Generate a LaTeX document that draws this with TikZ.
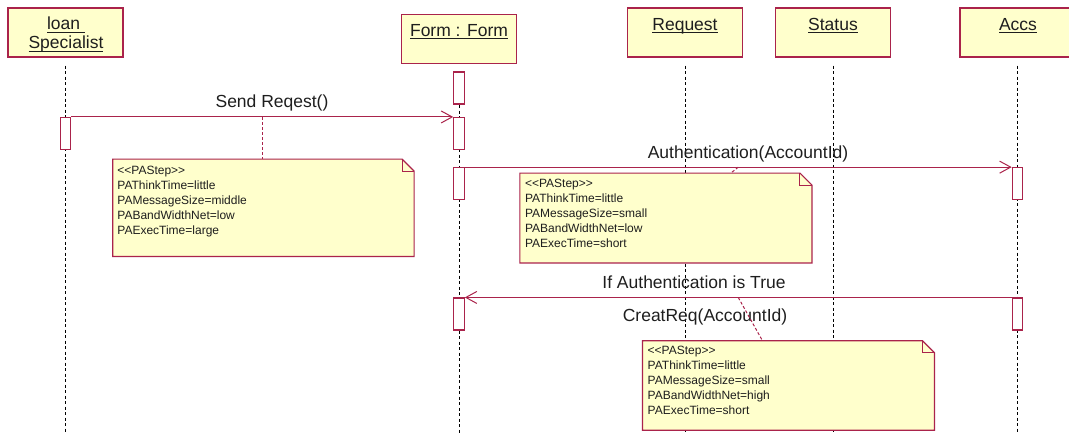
\documentclass[tikz,border=0pt]{standalone}
\usepackage{fontspec}
\setmainfont{Liberation Sans}
\usetikzlibrary{arrows.meta,calc}

\definecolor{umlred}{RGB}{170,35,75}
\definecolor{umlfill}{RGB}{255,255,204}
\definecolor{inktext}{RGB}{30,30,30}

% underlined object name with a fixed rule offset
\newcommand\ulname[1]{\setbox0=\hbox{#1}\rlap{\rule[-2.8pt]{\wd0}{0.9pt}}\box0}
% stereotype brackets without the guillemet ligature
\newcommand\stereo[1]{<{}<#1>{}>}

\tikzset{
  objbox/.style={draw=umlred, fill=umlfill, line width=1.2pt,
    minimum width=115pt, minimum height=49pt, inner sep=0pt},
  objname/.style={font=\fontsize{17.5}{19}\selectfont, text=inktext, inner sep=0pt},
  lifeline/.style={draw=black, line width=0.8pt, dash pattern=on 3pt off 2.5pt},
  actbar/.style={draw=umlred, fill=white, line width=1.1pt,
    minimum width=10.5pt, minimum height=32pt, inner sep=0pt},
  msg/.style={draw=umlred, line width=1pt,
    -{Straight Barb[length=11pt,width=12pt,line width=1pt]}},
  msglabel/.style={font=\fontsize{17.5}{20}\selectfont, text=inktext,
    anchor=base, inner sep=0pt},
  notebox/.style={inner sep=0pt},
  noteedge/.style={draw=umlred, fill=umlfill, line width=1.2pt, line join=miter},
  notefold/.style={draw=umlred, line width=1pt},
  notetext/.style={font=\fontsize{12}{15}\selectfont, text=inktext,
    align=left, anchor=north west, inner sep=0pt},
  notelink/.style={draw=umlred, line width=1pt, dash pattern=on 3pt off 2pt},
}

\begin{document}
\begin{tikzpicture}[x=1pt,y=-1pt]
\useasboundingbox (0,0) rectangle (1069,434);
\clip (0,0) rectangle (1069,434);
\coordinate (bottom) at (0,434);

% object headers
\node[objbox] (loan) at (65.5,32.5) {};
\node[objbox] (form) at (459,39) {};
\node[objbox] (req)  at (685,32.5) {};
\node[objbox] (stat) at (833,32.5) {};
\node[objbox] (accs) at (1017.5,32.5) {};

\node[objname, anchor=north, align=center] (loanname) at (66,16.8)
  {\ulname{loan\ }\\\ulname{Specialist}};
\node[objname, anchor=base] (formname) at (459,36) {\ulname{Form : Form}};
\node[objname, anchor=base] (reqname)  at (685,30.4) {\ulname{Request}};
\node[objname, anchor=base] (statname) at (833,30.4) {\ulname{Status}};
\node[objname, anchor=base] (accsname) at (1018,30.4) {\ulname{Accs}};

% lifelines
\foreach \o in {loan,form,req,stat,accs}
  \draw[lifeline] ([yshift=-8pt]\o.south) -- (\o.south |- bottom);

% activation bars
\node[actbar] (ls1) at (65.5,133.5) {};
\node[actbar] (fm1) at (459,88) {};
\node[actbar] (fm2) at (459,133.5) {};
\node[actbar] (fm3) at (459,183.7) {};
\node[actbar] (ac1) at (1017.5,183.7) {};
\node[actbar] (fm4) at (459,314) {};
\node[actbar] (ac2) at (1017.5,314) {};

% messages
\draw[msg] (ls1.north east) -- (fm2.north west);
\draw[msg] (fm3.north east) -- (ac1.north west);
\draw[msg] (ac2.north west) -- (fm4.north east);

\node[msglabel] (lab1) at (272,107) {Send Reqest()};
\node[msglabel] (lab2) at (748,158) {Authentication(AccountId)};
\node[msglabel] (lab3) at (694,288) {If Authentication is True};
\node[msglabel] (lab4) at (705,321) {CreatReq(AccountId)};

% notes
\node[notebox, minimum width=301pt, minimum height=97pt] (n1) at (263.4,207.8) {};
\node[notebox, minimum width=291.7pt, minimum height=89.4pt] (n2) at (665.9,218) {};
\node[notebox, minimum width=291.6pt, minimum height=89pt] (n3) at (788.5,385.5) {};

\coordinate (m1) at ($(ls1.north east)!0.5!(fm2.north west)$);
\coordinate (m2) at ($(fm3.north east)!0.5!(ac1.north west)$);
\coordinate (m3) at ($(ac2.north west)!0.5!(fm4.north east)$);
\coordinate (n2tip) at ($(n2.north west)+(211,0)$);
\coordinate (n3tip) at ($(n3.north west)+(120,0)$);

\draw[notelink] (m1) -- (m1 |- n1.north);
\draw[notelink] (m2) -- (n2tip);
\draw[notelink] (m3) -- (n3tip);

\foreach \n in {n1,n2,n3} {
  \draw[noteedge] (\n.south west) -- (\n.north west)
    -- ([xshift=-12pt]\n.north east) -- ([yshift=-12pt]\n.north east)
    -- (\n.south east) -- cycle;
  \draw[notefold] ([xshift=-12pt]\n.north east) -- ++(0,12)
    -- ([yshift=-12pt]\n.north east);
}

\node[notetext] (t1) at ($(n1.north west)+(4.5,6.5)$)
  {\stereo{PAStep}\\PAThinkTime=little\\PAMessageSize=middle\\PABandWidthNet=low\\PAExecTime=large};
\node[notetext] (t2) at ($(n2.north west)+(5,6)$)
  {\stereo{PAStep}\\PAThinkTime=little\\PAMessageSize=small\\PABandWidthNet=low\\PAExecTime=short};
\node[notetext] (t3) at ($(n3.north west)+(5,5)$)
  {\stereo{PAStep}\\PAThinkTime=little\\PAMessageSize=small\\PABandWidthNet=high\\PAExecTime=short};
\end{tikzpicture}
\end{document}
